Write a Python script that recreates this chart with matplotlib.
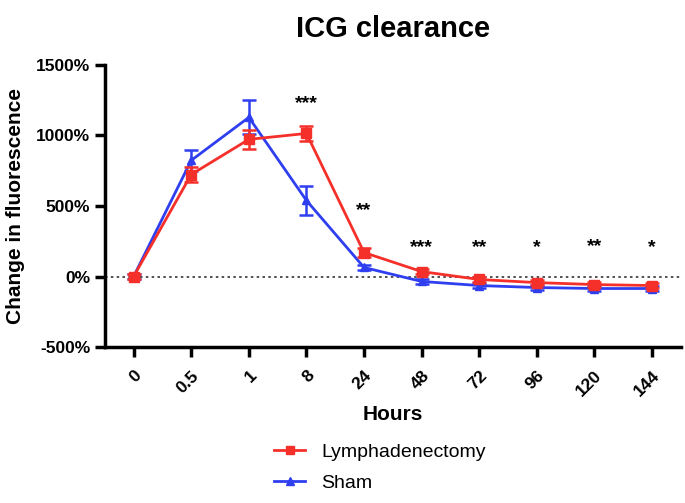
import matplotlib
matplotlib.use("Agg")
import matplotlib.pyplot as plt
from matplotlib.ticker import FuncFormatter
from matplotlib.lines import Line2D
import numpy as np

# data
hours = ["0", "0.5", "1", "8", "24", "48", "72", "96", "120", "144"]
lymph = [0, 723, 972, 1014, 170, 35, -21, -43, -57, -64]
lymph_err = [15, 50, 70, 50, 30, 20, 15, 15, 15, 15]
sham = [0, 823, 1128, 539, 64, -35, -64, -78, -85, -85]
sham_err = [15, 75, 120, 100, 20, 15, 15, 15, 15, 15]
stars = ["", "", "", "***", "**", "***", "**", "*", "**", "*"]
star_y = [0, 0, 0, 1227, 468, 206, 206, 206, 215, 206]

plt.rcParams['font.family'] = ['Liberation Sans', 'DejaVu Sans']

fig = plt.figure(figsize=(6.85, 5.03), dpi=100)
ax = fig.add_axes([0.153, 0.31, 0.841, 0.561])

x = np.arange(len(hours))
red = '#f5302a'
blue = '#2f3ff0'

ax.axhline(0, color='#333333', linestyle=(0, (1.5, 2)), linewidth=1.2, zorder=1)
ax.errorbar(x, lymph, yerr=lymph_err, color=red, marker='s', markersize=7,
            linewidth=2, elinewidth=1.8, capsize=5, capthick=1.8, zorder=3)
ax.errorbar(x, sham, yerr=sham_err, color=blue, marker='^', markersize=6,
            linewidth=2, elinewidth=1.8, capsize=5, capthick=1.8, zorder=2)

for xi, s, yi in zip(x, stars, star_y):
    if s:
        ax.text(xi, yi, s, ha='center', va='center', fontsize=14, fontweight='bold')

ax.set_xlim(-0.5, 9.5)
ax.set_ylim(-500, 1500)
ax.set_yticks([-500, 0, 500, 1000, 1500])
ax.yaxis.set_major_formatter(FuncFormatter(lambda v, p: f"{int(v)}%"))
ax.set_xticks(x)
ax.set_xticklabels(hours, rotation=45, ha='right', rotation_mode='anchor')

for side in ['top', 'right']:
    ax.spines[side].set_visible(False)
for side in ['left', 'bottom']:
    ax.spines[side].set_linewidth(2.5)
ax.tick_params(width=2.5, length=7, labelsize=12.5, direction='out')
ax.tick_params(axis='x', pad=8)
for lab in ax.get_xticklabels() + ax.get_yticklabels():
    lab.set_fontweight('bold')

ax.set_xlabel('Hours', fontsize=15, fontweight='bold', labelpad=4)
ax.set_ylabel('Change in fluorescence', fontsize=15, fontweight='bold', labelpad=8)
ax.set_title('ICG clearance', fontsize=21, fontweight='bold', pad=20)

handles = [Line2D([], [], color=red, marker='s', markersize=6, linewidth=2),
           Line2D([], [], color=blue, marker='^', markersize=6, linewidth=2)]
fig.legend(handles, ['Lymphadenectomy', 'Sham'], loc='lower left',
           bbox_to_anchor=(0.375, -0.012), frameon=False, fontsize=14,
           handlelength=1.6, handletextpad=0.8, labelspacing=0.65)

fig.savefig('out.png', dpi=100)
